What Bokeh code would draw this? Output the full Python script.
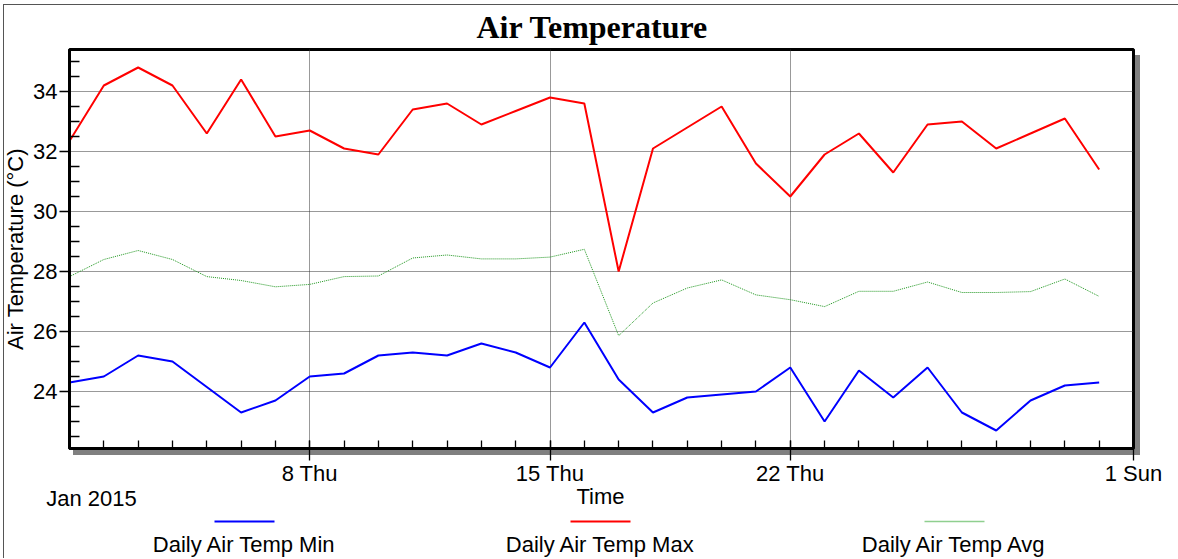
import pandas as pd
from bokeh.plotting import figure
from bokeh.layouts import column
from bokeh.models import Range1d, FixedTicker, DatetimeTickFormatter
from bokeh.core.properties import value
from bokeh.embed import file_html
from bokeh.resources import INLINE

# ---------------- data ----------------
dates = pd.date_range("2015-01-01", "2015-01-31", freq="D")
min_vals = [24.3, 24.5, 25.2, 25.0, 24.15, 23.3, 23.7, 24.5, 24.6, 25.2,
            25.3, 25.2, 25.6, 25.3, 24.8, 26.3, 24.4, 23.3, 23.8, 23.9,
            24.0, 24.8, 23.0, 24.7, 23.8, 24.8, 23.3, 22.7, 23.7, 24.2, 24.3]
max_vals = [32.35, 34.2, 34.8, 34.2, 32.6, 34.4, 32.5, 32.7, 32.1, 31.9,
            33.4, 33.6, 32.9, 33.35, 33.8, 33.6, 28.0, 32.1, 32.8, 33.5,
            31.6, 30.5, 31.9, 32.6, 31.3, 32.9, 33.0, 32.1, 32.6, 33.1, 31.4]
avg_vals = [27.83, 28.4, 28.7, 28.4, 27.83, 27.7, 27.49, 27.57, 27.83, 27.85,
            28.45, 28.55, 28.42, 28.42, 28.48, 28.74, 25.86, 26.95, 27.45, 27.72,
            27.22, 27.06, 26.83, 27.34, 27.34, 27.65, 27.3, 27.3, 27.33, 27.75, 27.17]
series_names = ["Daily Air Temp Min", "Daily Air Temp Max", "Daily Air Temp Avg"]
series_colors = ["#0000ff", "#ff0000", "#1f961f"]
tick_dates = ["2015-01-08", "2015-01-15", "2015-01-22", "2015-02-01"]
tick_labels = ["8 Thu", "15 Thu", "22 Thu", "1 Sun"]
month_label = "Jan 2015"
x_title = "Time"
y_title = "Air Temperature (°C)"
y_ticks = [24, 26, 28, 30, 32, 34]
y_minor_ticks = [22.5, 23, 23.5, 24.5, 25, 25.5, 26.5, 27, 27.5, 28.5, 29, 29.5,
                 30.5, 31, 31.5, 32.5, 33, 33.5, 34.5, 35]


def ms(d):
    return pd.Timestamp(d).value / 1e6


SANS = "Liberation Sans"
FS = "22px"
W, H_MAIN = 1178, 488
STRIP_TOP, STRIP_BOTTOM = 454, 558   # page rows covered by the lower strip

# ---------------- main chart ----------------
p = figure(width=W, height=H_MAIN, x_axis_type="datetime",
           x_range=Range1d(ms("2015-01-01"), ms("2015-02-01")),
           y_range=Range1d(22.1, 35.4),
           output_backend="svg", toolbar_location=None,
           min_border_left=67, min_border_right=45,
           min_border_top=49, min_border_bottom=40,
           background_fill_color="white", border_fill_color=None)

p.title.text = "Air Temperature"
p.title.text_font = "Liberation Serif"
p.title.text_font_size = "32px"
p.title.text_font_style = "bold"
p.title.text_color = "black"
p.title.align = "left"
p.title.offset = 407
p.title.standoff = 10

p.outline_line_color = "black"
p.outline_line_width = 3
p.outline_line_alpha = 1

p.xgrid.ticker = FixedTicker(ticks=[ms(d) for d in tick_dates[:3]])
p.xgrid.grid_line_color = "#333333"
p.xgrid.grid_line_dash = "1 1"
p.ygrid.grid_line_color = "#333333"
p.ygrid.grid_line_dash = "1 1"

p.line(dates, avg_vals, line_color=series_colors[2], line_width=1, line_dash="1 1")
p.line(dates, min_vals, line_color=series_colors[0], line_width=2)
p.line(dates, max_vals, line_color=series_colors[1], line_width=2)

xa = p.xaxis[0]
xa.ticker = FixedTicker(ticks=[ms(d) for d in tick_dates],
                        minor_ticks=[ms(d) for d in dates[1:]])
xa.formatter = DatetimeTickFormatter(days="%-d %a", months="%-d %a")
xa.major_label_overrides = {ms(d): lab for d, lab in zip(tick_dates, tick_labels)}
xa.major_label_text_font = SANS
xa.major_label_text_font_size = FS
xa.major_label_text_color = "black"
xa.major_label_standoff = 0
xa.axis_line_width = 3
xa.axis_line_color = "black"
xa.major_tick_out = 12
xa.major_tick_in = 8
xa.minor_tick_in = 8
xa.minor_tick_out = 0
xa.major_tick_line_width = 1.3
xa.minor_tick_line_width = 1.3
xa.major_tick_line_color = "black"
xa.minor_tick_line_color = "black"

ya = p.yaxis[0]
ya.ticker = FixedTicker(ticks=y_ticks, minor_ticks=y_minor_ticks)
ya.axis_label = y_title
ya.axis_label_text_font = SANS
ya.axis_label_text_font_size = FS
ya.axis_label_text_font_style = "normal"
ya.axis_label_text_color = "black"
ya.axis_label_standoff = 2
ya.major_label_text_font = SANS
ya.major_label_text_font_size = FS
ya.major_label_text_color = "black"
ya.major_label_standoff = 2
ya.axis_line_width = 3
ya.axis_line_color = "black"
ya.major_tick_out = 10
ya.major_tick_in = 0
ya.minor_tick_in = 10
ya.minor_tick_out = 0
ya.major_tick_line_width = 1.3
ya.minor_tick_line_width = 1.3

# ---------------- strip below: month context, axis title, legend ----------------
q = figure(width=W, height=STRIP_BOTTOM - STRIP_TOP, x_range=Range1d(0, W),
           y_range=Range1d(STRIP_BOTTOM, STRIP_TOP),
           output_backend="svg", toolbar_location=None,
           x_axis_location=None, y_axis_location=None,
           min_border=0, min_border_left=0, min_border_right=0,
           min_border_top=0, min_border_bottom=0,
           background_fill_color=None, border_fill_color=None)
q.grid.visible = False
q.outline_line_color = None
q.margin = (STRIP_TOP - H_MAIN, 0, 0, 0)   # overlap the (transparent) bottom margin

for fig in (p, q):
    if "frame_align" in type(fig).properties():
        fig.frame_align = False

txt_kw = dict(text_align="center", text_baseline="middle",
              text_font=value(SANS), text_font_size=FS, text_color="black")
q.text(x=[91, 600], y=[498, 496], text=[month_label, x_title], **txt_kw)

leg_cx = [244, 600, 954]
q.segment(x0=[c - 30 for c in leg_cx], x1=[c + 30 for c in leg_cx],
          y0=[521] * 3, y1=[521] * 3, line_color=series_colors[:2] + ["#8fcf8f"],
          line_width=[2, 2, 1.5])
q.text(x=leg_cx, y=[544] * 3, text=series_names, **txt_kw)

layout = column(p, q, spacing=0)
layout.styles = {
    "background-color": "white",
    "background-image": "linear-gradient(#808080, #808080), "
                        "linear-gradient(#555555, #555555), "
                        "linear-gradient(#555555, #555555)",
    "background-position": "73px 55px, 3px 4px, 3px 4px",
    "background-size": "1067px 400px, 1px 560px, 1180px 1px",
    "background-repeat": "no-repeat",
}

open("out.html", "w").write(file_html(layout, INLINE))
